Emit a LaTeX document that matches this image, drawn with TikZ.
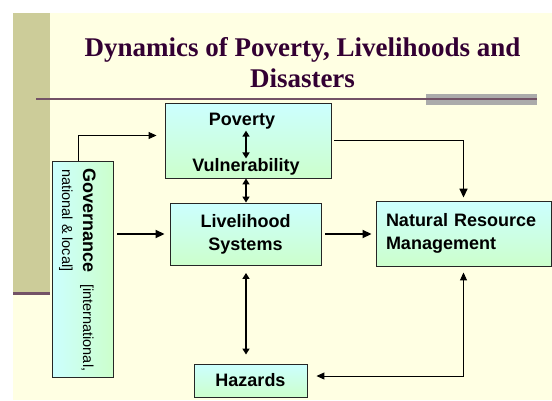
\documentclass[tikz,border=0pt]{standalone}
\usepackage{fontspec}
\setmainfont{Liberation Serif}
\setsansfont{Liberation Sans}
\usetikzlibrary{arrows.meta}
\definecolor{bgyellow}{HTML}{FFFFE3}
\definecolor{tanband}{HTML}{CCCC99}
\definecolor{titlecol}{HTML}{330033}
\definecolor{rulecol}{HTML}{735266}
\definecolor{barcol}{HTML}{ABABAB}
\definecolor{boxtop}{HTML}{CCFFFF}
\definecolor{boxbot}{HTML}{CCFFCC}
\begin{document}
\begin{tikzpicture}[x=1pt,y=-1pt,
    box/.style={draw=black!85,line width=0.9pt,top color=boxtop,bottom color=boxbot,
      inner sep=0pt,align=center,font=\sffamily\bfseries\fontsize{18}{23}\selectfont},
    lbl/.style={inner sep=0pt,font=\sffamily\bfseries\fontsize{18}{22}\selectfont},
    govtext/.style={rotate=-90,anchor=base west,inner sep=0pt,
      font=\sffamily\fontsize{14.5}{17}\selectfont},
    link/.style={line width=1pt,-{Triangle[length=8pt,width=7pt]}},
    flow/.style={line width=1.8pt,-{Triangle[length=9pt,width=8pt]}},
    both/.style={line width=1.8pt,{Triangle[length=6pt,width=7pt]}-{Triangle[length=6pt,width=7pt]}}]
  \useasboundingbox (0,0) rectangle (552,400);
  % slide background
  \fill[white] (0,0) rectangle (552,400);
  \fill[bgyellow] (13,13) rectangle (552,400);
  \fill[tanband] (13,13) rectangle (50,293);
  \fill[rulecol] (13,292) rectangle (50,295);
  \fill[barcol] (426,94) rectangle (537,105);
  \draw[rulecol,line width=1.5pt] (36,99) -- (537,99);
  \node[inner sep=0pt,align=center,text=titlecol,font=\bfseries\fontsize{27}{31}\selectfont]
    (title) at (302.5,63) {Dynamics of Poverty, Livelihoods and\\Disasters};
  % boxes
  \node[box,minimum width=166pt,minimum height=75pt] (pov) at (248,140.5) {};
  \node[lbl,anchor=base] (povtxt) at (242,125.7) {Poverty};
  \node[lbl,anchor=base] (vultxt) at (246,171.7) {Vulnerability};
  \node[box,minimum width=151pt,minimum height=62pt] (liv) at (245.5,234) {Livelihood\\Systems};
  \node[box,minimum width=175pt,minimum height=65pt,text width=155pt,align=left]
    (nrm) at (463.5,233.5) {Natural Resource\\Management};
  \node[box,minimum width=113pt,minimum height=33pt] (haz) at (250.5,380.5) {Hazards};
  \node[box,left color=boxtop,right color=boxbot,minimum width=61pt,minimum height=216pt]
    (gov) at (82.5,269) {};
  \node[govtext] (govone) at (83,168)
    {{\bfseries\fontsize{18}{21}\selectfont Governance}\hspace{12pt}[international,};
  \node[govtext] (govtwo) at (62,169) {national \& local]};
  % connectors
  \coordinate (povbend) at (pov.east -| nrm.north);
  \draw[link] ([xshift=-4pt]gov.north) |- ([xshift=-8pt,yshift=5pt]pov.west);
  \draw[flow,shorten <=4pt,shorten >=5pt] (gov.east |- liv.west) -- (liv.west);
  \draw[line width=1pt] ([xshift=3pt]pov.east) -- ([xshift=0.8pt]povbend);
  \draw[flow,line width=1.6pt,shorten >=3pt] (povbend) -- (nrm.north);
  \draw[flow,shorten <=4pt,shorten >=4pt] (liv.east) -- (liv.east -| nrm.west);
  \draw[link,{Triangle[length=8pt,width=7pt]}-{Triangle[length=8pt,width=7pt]}]
    ([yshift=-6pt]nrm.south) |- ([xshift=9pt,yshift=4.5pt]haz.east);
  \draw[both] ([yshift=-1pt]povtxt.south -| vultxt.north) -- (vultxt.north);
  \draw[both] (pov.south -| vultxt.south) -- (liv.north -| vultxt.south);
  \draw[both,shorten <=7.5pt,shorten >=9pt] (liv.south -| vultxt.south) -- (haz.north -| vultxt.south);
\end{tikzpicture}
\end{document}
